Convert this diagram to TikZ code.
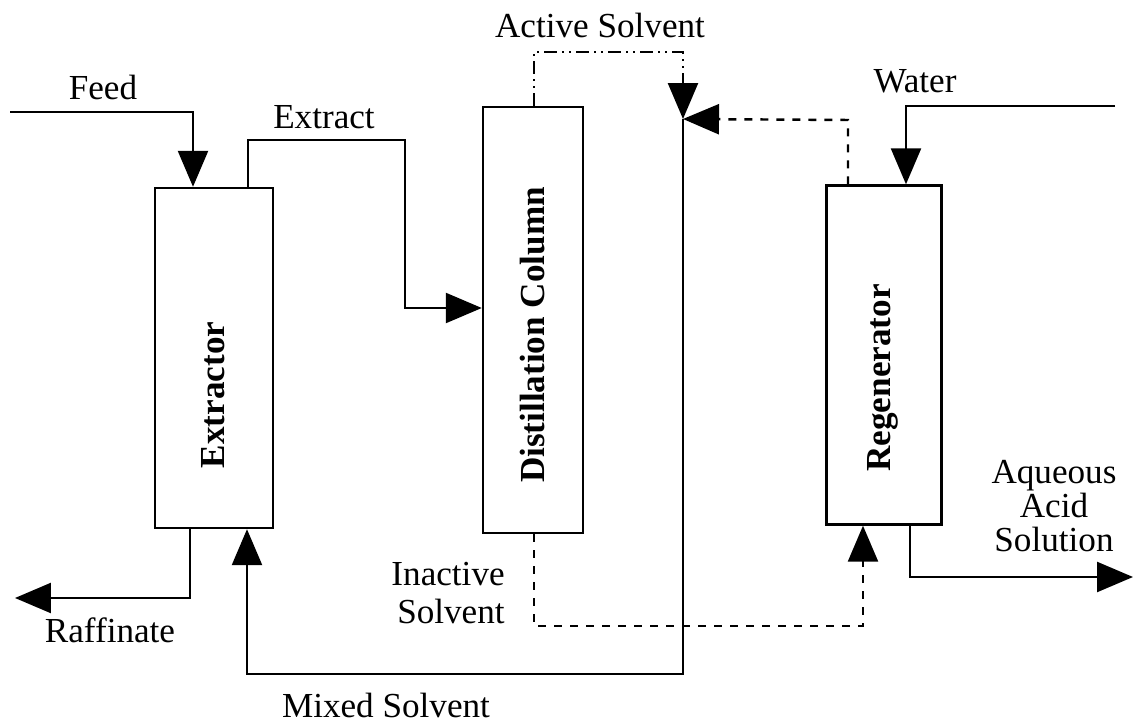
\documentclass[tikz,border=0pt]{standalone}
\usepackage{fontspec}
\setmainfont{Liberation Serif}
\usetikzlibrary{positioning, arrows.meta, calc}

\begin{document}
\begin{tikzpicture}[x=0.02cm, y=-0.02cm,
    unit/.style={draw, line width=1.4pt, inner sep=0pt},
    flux/.style={line width=1.4pt},
    fleche/.style={-{Triangle[length=0.72cm, width=0.6cm]}},
    tirets/.style={dash pattern=on 0.16cm off 0.16cm},
    mixte/.style={dash pattern=on 0.26cm off 0.1cm on 0.04cm off 0.1cm on 0.04cm off 0.1cm},
    lbl/.style={font=\fontsize{20}{21.5}\selectfont, inner sep=0pt},
    titre/.style={font=\fontsize{20}{24}\selectfont\bfseries, inner sep=0pt, rotate=90}]
    \useasboundingbox (0,0) rectangle (1134,723);

    % Appareils
    \node[unit, minimum width=2.36cm, minimum height=6.8cm] (ext) at (214,358) {};
    \node[unit, minimum width=2cm, minimum height=8.52cm] (dist) at (533,320) {};
    \node[unit, minimum width=2.3cm, minimum height=6.78cm] (regen) at (884,355) {};
    \node[titre] (extlbl) at (213,395) {Extractor};
    \node[titre] (distlbl) at (533,335) {Distillation Column};
    \node[titre] (regenlbl) at (883,378) {Regenerator};

    % Points de passage
    \coordinate (feedin) at (10,112);
    \coordinate (feedturn) at (193,112);
    \coordinate (extup) at (248,140);
    \coordinate (extright) at (405,140);
    \coordinate (extin) at (405,308);
    \coordinate (actup) at (534,52);
    \coordinate (mix) at (683,119);
    \coordinate (regup) at (848,120);
    \coordinate (mixbot) at (683,674);
    \coordinate (mixin) at (247,674);
    \coordinate (waterin) at (1115,106);
    \coordinate (waterturn) at (906,106);
    \coordinate (inadown) at (534,626);
    \coordinate (inaturn) at (863,626);
    \coordinate (rafdown) at (190,598);
    \coordinate (rafout) at (15,598);
    \coordinate (aqdown) at (910,577);
    \coordinate (aqout) at (1133,577);

    % Courants
    \draw[flux, fleche] (feedin) -- (feedturn) -- (feedturn |- ext.north);
    \draw[flux, fleche] (extup |- ext.north) -- (extup) -- (extright) -- (extin) -- (extin -| dist.west);
    \draw[flux, mixte, fleche] (actup |- dist.north) -- (actup) -- (mix |- actup) -- (mix);
    \draw[flux, tirets, fleche] (regup |- regen.north) -- (regup) -- (mix);
    \draw[flux, fleche] (mix) -- (mixbot) -- (mixin) -- (mixin |- ext.south);
    \draw[flux, fleche] (waterin) -- (waterturn) -- (waterturn |- regen.north);
    \draw[flux, tirets, fleche] (inadown |- dist.south) -- (inadown) -- (inaturn) -- (inaturn |- regen.south);
    \draw[flux, fleche] (rafdown |- ext.south) -- (rafdown) -- (rafout);
    \draw[flux, fleche] (aqdown |- regen.south) -- (aqdown) -- (aqout);

    % Etiquettes
    \node[lbl] (feedlbl) at (103,87) {Feed};
    \node[lbl] (extractlbl) at (324,117) {Extract};
    \node[lbl] (actlbl) at (600,25) {Active Solvent};
    \node[lbl] (waterlbl) at (915,81) {Water};
    \node[lbl, align=right, anchor=east] (inalbl) at (505,593) {Inactive\\Solvent};
    \node[lbl] (raflbl) at (110,630) {Raffinate};
    \node[lbl] (mixlbl) at (386,705) {Mixed Solvent};
    \node[lbl, align=center, font=\fontsize{20}{19.3}\selectfont] (aqlbl) at (1054,506) {Aqueous\\Acid\\Solution};
\end{tikzpicture}
\end{document}
